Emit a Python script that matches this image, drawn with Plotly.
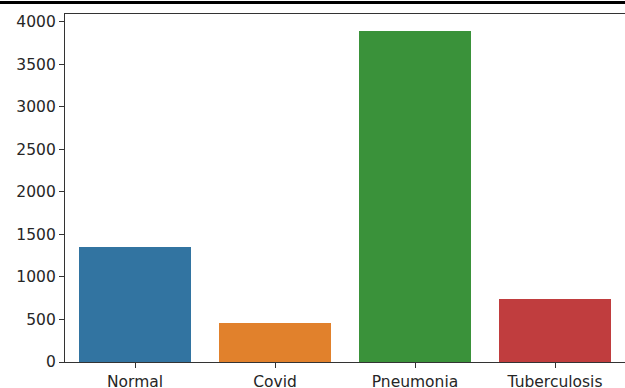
import plotly.graph_objects as go

categories = ["Normal", "Covid", "Pneumonia", "Tuberculosis"]
counts = [1350, 460, 3894, 745]
colors = ["#3274a1", "#e1812c", "#3a923a", "#c03d3e"]
y_ticks = [0, 500, 1000, 1500, 2000, 2500, 3000, 3500, 4000]

W, H = 625, 388
ML, MR, MT, MB = 65, 0, 14, 26

fig = go.Figure(go.Bar(
    x=list(range(len(categories))), y=counts, width=0.8,
    marker=dict(color=colors, line=dict(width=0)),
))

tick_font = dict(family="DejaVu Sans", size=15.5, color="#262626")
fig.update_layout(
    width=W, height=H,
    margin=dict(l=ML, r=MR, t=MT, b=MB, pad=0, autoexpand=False),
    plot_bgcolor="white", paper_bgcolor="white",
    showlegend=False,
    bargap=0,
    xaxis=dict(
        range=[-0.5, 3.5], tickmode="array", automargin=False,
        tickvals=list(range(len(categories))), ticktext=categories,
        ticks="outside", ticklen=5, tickwidth=1.2, tickcolor="#333",
        showline=True, linecolor="#333", linewidth=1.2, mirror=True,
        showgrid=False, zeroline=False, tickfont=tick_font,
    ),
    yaxis=dict(
        range=[0, max(counts) * 1.05], tickmode="array", tickvals=y_ticks,
        automargin=False,
        ticks="outside", ticklen=5, tickwidth=1.2, tickcolor="#333",
        showline=True, linecolor="#333", linewidth=1.2,
        showgrid=False, zeroline=False, tickfont=tick_font,
    ),
)

plot_w = W - ML - MR
plot_h = H - MT - MB
fig.add_shape(
    type="line", xref="paper", yref="paper",
    x0=-ML / plot_w, x1=1.0,
    y0=1 + (MT - 2.5) / plot_h, y1=1 + (MT - 2.5) / plot_h,
    line=dict(color="black", width=3),
)

fig.write_html(
    "out.html",
    config={"displayModeBar": False},
    post_script=(
        "document.documentElement.style.margin='0';"
        "document.documentElement.style.overflow='hidden';"
        "document.body.style.margin='0';document.body.style.padding='0';"
        "document.body.style.overflow='hidden';window.scrollTo(0,0);"
    ),
)
